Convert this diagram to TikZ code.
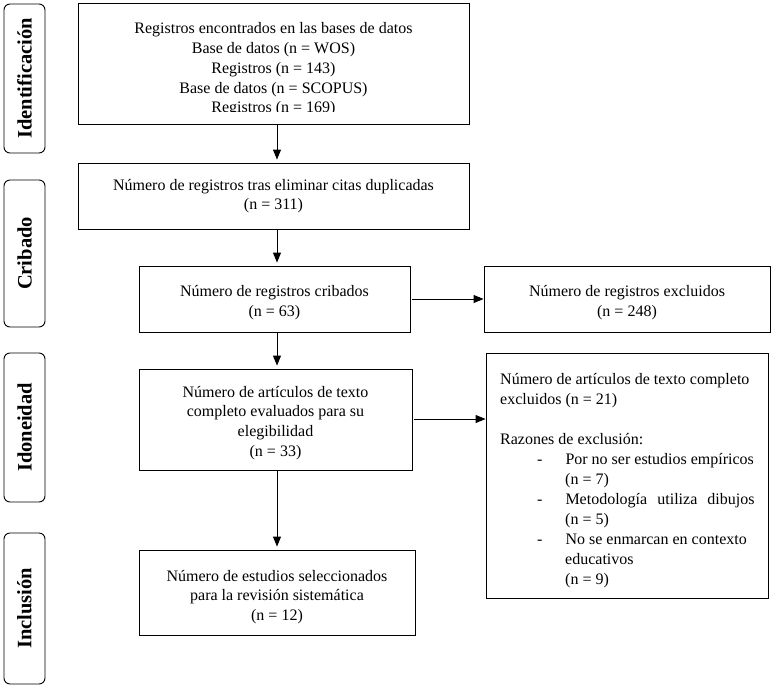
\documentclass[tikz,border=0pt]{standalone}
\usepackage{fontspec}
\setmainfont{Liberation Serif}
\usetikzlibrary{arrows.meta}
\begin{document}
\begin{tikzpicture}[x=1pt,y=-1pt,
  box/.style={draw,line width=0.9pt,inner sep=0pt,align=center,font=\fontsize{16}{19.6}\selectfont},
  txt/.style={inner sep=0pt,align=center,font=\fontsize{16}{19.8}\selectfont},
  side/.style={draw,line width=0.9pt,rounded corners=6pt,rotate=90,inner sep=0pt,font=\fontsize{20.5}{22}\selectfont\bfseries},
  arr/.style={line width=0.9pt,-{Triangle[length=10pt,width=8pt]}}]
\useasboundingbox (0,0) rectangle (780,697);
% side labels
\node[side,minimum width=149,minimum height=41] (s1) at (24.5,78.5) {Identificación};
\node[side,minimum width=147,minimum height=41] (s2) at (24.5,253.5) {Cribado};
\node[side,minimum width=149,minimum height=41] (s3) at (24.5,427.5) {Idoneidad};
\node[side,minimum width=151,minimum height=41] (s4) at (24.5,608.5) {Inclusión};
% main boxes
\node[box,minimum width=391,minimum height=121] (b1) at (273.5,63.5) {};
\begin{scope}
\clip (78,3) rectangle (469,111.5);
\node[txt] (t1) at (273.5,69.5) {Registros encontrados en las bases de datos\\Base de datos (n = WOS)\\Registros (n = 143)\\Base de datos (n = SCOPUS)\\Registros (n = 169)};
\end{scope}
\node[box,minimum width=391,minimum height=66] (b2) at (273.5,196) {Número de registros tras eliminar citas duplicadas\\(n = 311)};
\node[box,minimum width=271,minimum height=66] (b3) at (274.5,299) {};
\node[txt] (t3) at (274.5,302.5) {Número de registros cribados\\(n = 63)};
\node[box,minimum width=286,minimum height=66] (e1) at (627,299) {};
\node[txt] (te1) at (627,302.5) {Número de registros excluidos\\(n = 248)};
\node[box,minimum width=273,minimum height=101] (b4) at (275.5,419.5) {};
\node[txt] (t4) at (275.5,423) {Número de artículos de texto\\completo evaluados para su\\elegibilidad\\(n = 33)};
\node[box,minimum width=276,minimum height=85] (b5) at (277,592.5) {};
\node[txt] (t5) at (277,597) {Número de estudios seleccionados\\para la revisión sistemática\\(n = 12)};
\node[box,minimum width=282,minimum height=245] (e2) at (627,475.5) {};
\node[txt,align=left,anchor=north west] (t2) at (500,373) {%
\begin{minipage}{262pt}\raggedright\fontsize{16}{20}\selectfont
Número de artículos de texto completo\\
excluidos (n = 21)\\[20pt]
Razones de exclusión:\\
\hspace*{37pt}-\hspace*{23pt}Por no ser estudios empíricos\\
\hspace*{65pt}(n = 7)\\
\hspace*{37pt}-\hspace*{23pt}\hbox to 189pt{Metodología\hfill utiliza\hfill dibujos}\\
\hspace*{65pt}(n = 5)\\
\hspace*{37pt}-\hspace*{23pt}No se enmarcan en contexto\\
\hspace*{65pt}educativos\\
\hspace*{65pt}(n = 9)
\end{minipage}};
% arrows
\draw[arr,shorten >=3pt] (b1.south -| 277,0) -- (b2.north -| 277,0);
\draw[arr,shorten >=3pt] (b2.south -| 277,0) -- (b3.north -| 277,0);
\draw[arr,shorten >=3pt] (b3.south -| 277,0) -- (b4.north -| 277,0);
\draw[arr,shorten >=3pt] (b4.south -| 277,0) -- (b5.north -| 277,0);
\draw[arr] (b3.east |- 0,299) ++(2,0) -- (e1.west |- 0,299);
\draw[arr] (b4.east |- 0,419) ++(2,0) -- (e2.west |- 0,419);
\end{tikzpicture}
\end{document}
